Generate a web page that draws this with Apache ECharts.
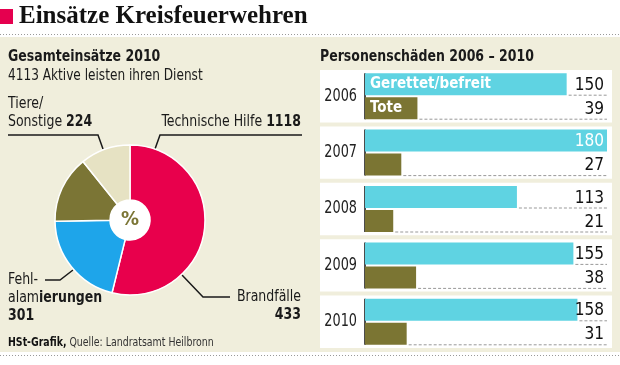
<!DOCTYPE html>
<html><head><meta charset="utf-8">
<script src="https://cdn.jsdelivr.net/npm/echarts@6/dist/echarts.min.js"></script>
<style>html,body{margin:0;padding:0;background:#fff}#c{width:620px;height:365px}</style>
</head><body><div id="c"></div>
<script>
// ---- data ----
const pieNames = ['Technische Hilfe', 'Brandfälle', 'Fehlalarmierungen', 'Tiere/Sonstige'];
const pieValues = [1118, 433, 301, 224];
const activeCount = 4113;
const years = ['2006', '2007', '2008', '2009', '2010'];
const gerettet = [150, 180, 113, 155, 158];
const tote = [39, 27, 21, 38, 31];
const xMax = 180;

// ---- style ----
const F = "'Liberation Sans Narrow','DejaVu Sans Condensed',Roboto,sans-serif";
const SX = 0.87;
const BG = '#f0eedc';
const pieColors = ['#e8004c', '#1ea5ea', '#7b7535', '#e6e2c3'];
const cCyan = '#5fd3e2', cOlive = '#7b7533';
const ink = '#1a1a1a';

const chart = echarts.init(document.getElementById('c'), null, {renderer: 'canvas'});

function txt(x, y, text, opts, sx) {
  return {type: 'text', x: x, y: y, scaleX: sx === undefined ? SX : sx,
    style: Object.assign({text: text, x: 0, y: 0, fill: ink, font: '16px ' + F, textVerticalAlign: 'middle'}, opts || {})};
}
function pl(points) {
  return {type: 'polyline', shape: {points: points}, style: {stroke: ink, lineWidth: 1.5, fill: null}};
}

const rows = [];
gerettet.forEach((v, i) => rows.push([v, i, 0]));
tote.forEach((v, i) => rows.push([v, i, 1]));

const option = {
  backgroundColor: BG,
  animation: false,
  grid: {left: 365, right: 13, top: 68, bottom: 15},
  xAxis: {type: 'value', min: 0, max: xMax, show: false},
  yAxis: {type: 'category', data: years, inverse: true, show: false},
  graphic: [
    {type: 'rect', shape: {x: 0, y: 0, width: 620, height: 37}, style: {fill: '#fff'}},
    {type: 'rect', shape: {x: 0, y: 352, width: 620, height: 13}, style: {fill: '#fff'}},
    {type: 'line', shape: {x1: 0, y1: 34.5, x2: 620, y2: 34.5}, style: {stroke: '#999', lineDash: [1, 2], lineWidth: 1}},
    {type: 'line', shape: {x1: 0, y1: 355.5, x2: 620, y2: 355.5}, style: {stroke: '#999', lineDash: [1, 2], lineWidth: 1}},
    {type: 'rect', shape: {x: 0, y: 9, width: 13, height: 15}, style: {fill: '#e5004f'}},
    txt(19, 17, 'Einsätze Kreisfeuerwehren', {font: 'bold 25px "Liberation Serif",serif', fill: '#111'}, 1),
    txt(8, 57, 'Gesamteinsätze 2010', {font: 'bold 16px ' + F}),
    txt(8, 76, activeCount + ' Aktive leisten ihren Dienst', {font: '15.5px ' + F}),
    txt(320, 57, 'Personenschäden 2006 – 2010', {font: 'bold 16px ' + F}),
    // pie labels
    txt(8, 104, 'Tiere/', {font: '16px ' + F}),
    txt(8, 122, '{n|Sonstige }{b|' + pieValues[3] + '}', {rich: {n: {font: '16px ' + F, fill: ink}, b: {font: 'bold 16px ' + F, fill: ink}}}),
    txt(301, 122, '{n|Technische Hilfe }{b|' + pieValues[0] + '}', {textAlign: 'right', rich: {n: {font: '16px ' + F, fill: ink}, b: {font: 'bold 16px ' + F, fill: ink}}}),
    pl([[8, 135], [98, 135], [103, 149]]),
    pl([[302, 135], [160, 135], [155, 149]]),
    txt(8, 280, 'Fehl-', {font: '16px ' + F}),
    txt(8, 298, '{n|alam}{b|ierungen}', {rich: {n: {font: '16px ' + F, fill: ink}, b: {font: 'bold 16px ' + F, fill: ink}}}),
    txt(8, 316, String(pieValues[2]), {font: 'bold 16px ' + F}),
    pl([[45, 280], [60, 280], [73, 270]]),
    txt(301, 297, 'Brandfälle', {font: '16px ' + F, textAlign: 'right'}),
    txt(301, 315, String(pieValues[1]), {font: 'bold 16px ' + F, textAlign: 'right'}),
    pl([[182, 275], [203, 297], [230, 297]]),
    txt(8, 343, '{b|HSt-Grafik,} Quelle: Landratsamt Heilbronn', {font: '12px ' + F, fill: '#333', rich: {b: {font: 'bold 12px ' + F, fill: '#111'}}})
  ],
  series: [
    {
      type: 'pie', center: [130, 220], radius: [20, 75], startAngle: 90, clockwise: true,
      silent: true, label: {show: false}, labelLine: {show: false},
      itemStyle: {borderColor: '#fff', borderWidth: 1.5},
      data: pieValues.map((v, i) => ({name: pieNames[i], value: v, itemStyle: {color: pieColors[i]}}))
    },
    {
      type: 'pie', center: [130, 220], radius: [0, 20], silent: true,
      itemStyle: {color: '#fff'},
      label: {show: true, position: 'center', formatter: '%', fontFamily: F, fontWeight: 'bold', fontSize: 20, color: '#7b7535'},
      labelLine: {show: false},
      data: [{value: 1, name: '%'}]
    },
    {
      type: 'custom', coordinateSystem: 'cartesian2d', z: 1, clip: false, silent: true,
      data: years.map((y, i) => [0, i]),
      renderItem: function (params, api) {
        const ci = api.value(1);
        const p = api.coord([0, ci]);
        const band = api.size([0, 1])[1];
        return {type: 'group', children: [
          {type: 'rect', shape: {x: 320, y: p[1] - band / 2 + 2, width: 292, height: band - 4}, style: {fill: '#fff'}},
          {type: 'line', shape: {x1: p[0], y1: p[1] - 23, x2: p[0], y2: p[1] + 23}, style: {stroke: '#111', lineWidth: 1.5}},
          {type: 'text', x: p[0] - 8, y: p[1], scaleX: 0.84, style: {text: years[ci], x: 0, y: 0, align: 'right', verticalAlign: 'middle', font: '17px ' + F, fill: '#222'}}
        ]};
      }
    },
    {
      type: 'bar', z: 2, barWidth: 22, barGap: '9%', itemStyle: {color: cCyan},
      data: gerettet.map((v, i) => i === 0 ? {value: v, label: {show: true, position: 'insideLeft', formatter: 'Gerettet/befreit', color: '#fff', fontFamily: F, fontWeight: 'bold', fontSize: 15, offset: [0, 0]}} : v)
    },
    {
      type: 'bar', z: 2, barWidth: 22, barGap: '9%', itemStyle: {color: cOlive},
      data: tote.map((v, i) => i === 0 ? {value: v, label: {show: true, position: 'insideLeft', formatter: 'Tote', color: '#fff', fontFamily: F, fontWeight: 'bold', fontSize: 15, offset: [0, 0]}} : v)
    },
    {
      type: 'custom', coordinateSystem: 'cartesian2d', z: 3, clip: false, silent: true,
      data: rows,
      renderItem: function (params, api) {
        const v = api.value(0), ci = api.value(1), ri = api.value(2);
        const p0 = api.coord([v, ci]);
        const pr = api.coord([xMax, ci]);
        const cy = p0[1] + (ri === 0 ? -12 : 12);
        const full = v >= xMax;
        const ch = [];
        if (!full) ch.push({type: 'line', shape: {x1: p0[0] + 2, y1: cy + 11, x2: pr[0], y2: cy + 11}, style: {stroke: '#999', lineDash: [3, 2], lineWidth: 1}});
        ch.push({type: 'text', x: pr[0] - 3, y: cy + 1, scaleX: 0.95, style: {text: String(v), x: 0, y: 0, align: 'right', verticalAlign: 'middle', font: '18px ' + F, fill: full ? '#fff' : '#111'}});
        return {type: 'group', children: ch};
      }
    }
  ]
};
chart.setOption(option);
</script>
</body></html>
